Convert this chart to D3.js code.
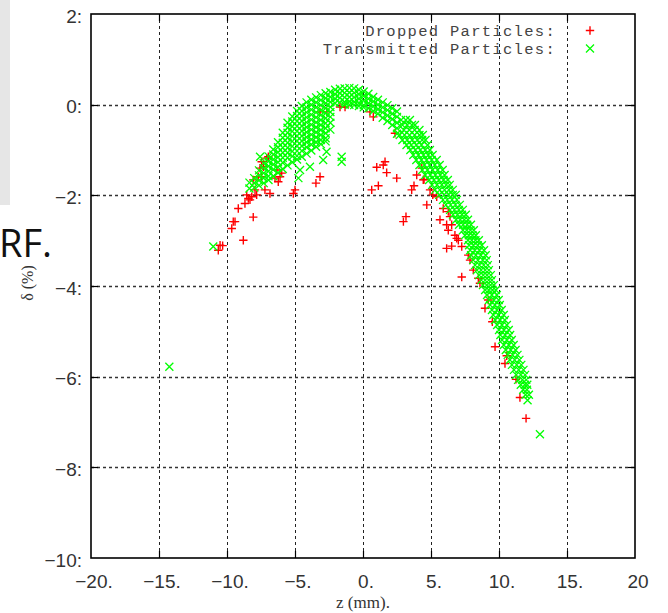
<!DOCTYPE html>
<html><head><meta charset="utf-8">
<script src="https://cdn.jsdelivr.net/npm/d3@7"></script>
<style>html,body{margin:0;padding:0;background:#fff;overflow:hidden}svg{display:block}</style>
</head><body>
<svg id="chart" width="668" height="613"></svg>
<script>
// ---------- data ----------
const xTicks = [-20, -15, -10, -5, 0, 5, 10, 15, 20];
const xTickLabels = ["\u221220.", "\u221215.", "\u221210.", "\u22125.", "0.", "5.", "10.", "15.", "20"];
const yTicks = [2, 0, -2, -4, -6, -8, -10];
const yTickLabels = ["2:", "0:", "\u22122:", "\u22124:", "\u22126:", "\u22128:", "\u221210:"];
const seriesNames = ["Dropped Particles:", "Transmitted Particles:"];
const xTitle = "z (mm).";
const yTitle = "\u03b4 (%)";
const sideText = "RF.";

// Dropped particles [z, delta]
const dropped = [
[-10.51,-3.10],[-10.64,-3.21],[-10.32,-3.11],[-8.80,-2.99],[-9.65,-2.73],[-9.54,-2.58],[-9.41,-2.58],[-9.17,-2.29],
[-8.07,-2.48],[-8.68,-2.18],[-8.55,-1.99],[-8.43,-2.07],[-8.31,-2.10],[-8.18,-2.03],[-7.82,-1.99],[-7.94,-1.88],
[-6.84,-1.96],[-8.07,-1.66],[-7.70,-1.59],[-7.57,-1.40],[-7.45,-1.26],[-7.08,-1.18],[-6.96,-1.15],[-6.47,-1.62],
[-6.23,-1.70],[-6.10,-1.59],[-5.98,-1.51],[-6.34,-1.44],[-5.12,-1.96],[-5.00,-1.88],[-3.46,-1.73],[-3.16,-1.59],
[-7.21,-1.88],[-7.45,-1.59],[-7.32,-1.37],
[-3.16,-0.16],[-1.69,-0.05],[-1.32,-0.05],[0.51,-0.16],[0.76,-0.27],[2.35,-0.63],[-2.67,-0.16],
[1.01,-1.38],[1.49,-1.33],[1.62,-1.26],[1.74,-1.50],[2.48,-1.62],[1.13,-1.79],[0.64,-1.88],[4.32,-1.40],
[3.95,-1.55],[4.49,-1.65],[3.75,-1.79],[3.58,-1.88],[4.93,-1.88],[5.42,-2.03],[4.69,-2.21],[2.97,-2.58],
[3.16,-2.47],[4.43,-1.66],
[5.13,-1.99],[5.90,-2.29],[6.27,-2.36],[6.40,-2.47],[5.66,-2.54],[6.15,-2.65],[6.52,-2.65],[6.27,-2.77],
[6.76,-2.88],[6.89,-2.95],[7.01,-2.99],[7.26,-3.13],[6.52,-3.12],[6.15,-3.17],[7.74,-3.32],[7.87,-3.43],
[7.26,-3.80],[8.11,-3.65],[8.48,-3.83],[8.60,-3.94],[9.21,-4.31],[8.97,-4.49],[9.51,-4.79],[9.71,-5.34],
[10.57,-5.54],[10.44,-5.71],[11.25,-6.06],[11.54,-6.46],[11.99,-6.92]
];

// Transmitted particles, left lobe, read column by column: [z, [delta...]]
const transmittedLobe = [
[-8.35,[-1.72,-1.85]],
[-8.0,[-1.62,-1.73,-1.83]],
[-7.65,[-1.45,-1.56,-1.67,-1.78]],
[-7.3,[-1.29,-1.4,-1.51,-1.62,-1.73]],
[-6.95,[-1.14,-1.25,-1.36,-1.47,-1.58,-1.66]],
[-6.6,[-0.99,-1.1,-1.21,-1.32,-1.43,-1.58]],
[-6.25,[-0.83,-0.94,-1.05,-1.16,-1.27,-1.38,-1.5]],
[-5.9,[-0.62,-0.73,-0.84,-0.95,-1.06,-1.17,-1.28,-1.42]],
[-5.55,[-0.4,-0.51,-0.62,-0.73,-0.84,-0.95,-1.06,-1.17,-1.34]],
[-5.2,[-0.26,-0.37,-0.48,-0.59,-0.7,-0.81,-0.92,-1.03,-1.14,-1.27]],
[-4.85,[-0.14,-0.25,-0.36,-0.47,-0.58,-0.69,-0.8,-0.91,-1.02,-1.13,-1.21]],
[-4.5,[-0.03,-0.14,-0.25,-0.36,-0.47,-0.58,-0.69,-0.8,-0.91,-1.02,-1.15]],
[-4.15,[0.05,-0.06,-0.17,-0.28,-0.39,-0.5,-0.61,-0.72,-0.83,-0.94,-1.08]],
[-3.8,[0.11,0.0,-0.11,-0.22,-0.33,-0.44,-0.55,-0.66,-0.77,-0.88,-1.01]],
[-3.45,[0.16,0.05,-0.06,-0.17,-0.28,-0.39,-0.5,-0.61,-0.72,-0.83,-0.93]],
[-3.1,[0.21,0.1,-0.01,-0.12,-0.23,-0.34,-0.45,-0.56,-0.67,-0.78,-0.87]],
[-2.75,[0.25,0.14,0.03,-0.08,-0.19,-0.3,-0.41,-0.52,-0.63,-0.74,-0.81]],
[-2.4,[0.28,0.17,0.06,-0.05,-0.16,-0.27,-0.4,-0.55]]
];

// Transmitted particles, top of the arch: [z, [delta...]]
const transmittedArch = [
[-2.05,[0.33,0.23,0.13,0.03]],
[-1.7,[0.35,0.25,0.15,0.05]],
[-1.35,[0.36,0.26,0.16,0.06,0.0]],
[-1.0,[0.37,0.27,0.17,0.07,0.0]],
[-0.65,[0.36,0.26,0.16,0.06,-0.01]],
[-0.3,[0.33,0.23,0.13,0.03,-0.03]],
[0.05,[0.29,0.19,0.09,-0.01,-0.06]],
[0.4,[0.24,0.13,0.03,-0.08]],
[0.75,[0.17,0.07,-0.04,-0.14]],
[1.1,[0.11,0.0,-0.1,-0.2]],
[1.45,[0.05,-0.06,-0.17,-0.29]],
[1.8,[-0.01,-0.12,-0.24,-0.36]],
[2.15,[-0.08,-0.2,-0.32,-0.45]],
[2.5,[-0.15,-0.27,-0.4,-0.52,-0.64]]
];

// Transmitted particles, descending tail, read row by row: [delta, [z...]]
const transmittedTail = [
[-0.34,[2.8,3.15,3.45]],
[-0.45,[2.9,3.25,3.6,3.82]],
[-0.56,[3.0,3.4,3.8,4.15]],
[-0.67,[2.7,3.05,3.42,3.8,4.15,4.4]],
[-0.78,[2.9,3.25,3.62,4.0,4.35,4.6]],
[-0.89,[3.2,3.55,3.92,4.3,4.75]],
[-1.00,[3.48,3.85,4.22,4.58,4.92]],
[-1.11,[3.7,4.08,4.45,4.8,5.12]],
[-1.22,[3.92,4.3,4.68,5.05,5.42]],
[-1.33,[4.15,4.52,4.9,5.28,5.64]],
[-1.44,[4.36,4.74,5.12,5.5,5.86]],
[-1.55,[4.58,4.95,5.32,5.68,6.0]],
[-1.66,[4.86,5.22,5.58,5.92,6.24]],
[-1.77,[5.08,5.45,5.8,6.12,6.38]],
[-1.88,[5.3,5.65,6.0,6.32,6.6]],
[-1.99,[5.6,5.95,6.3,6.6,6.82]],
[-2.10,[5.88,6.2,6.55,6.9]],
[-2.21,[6.1,6.45,6.8,7.12]],
[-2.32,[6.4,6.72,7.05,7.34]],
[-2.43,[6.62,6.95,7.28,7.56]],
[-2.54,[6.85,7.15,7.45,7.72]],
[-2.65,[7.06,7.36,7.66,7.94]],
[-2.77,[7.35,7.63,7.9,8.15]],
[-2.88,[7.5,7.78,8.05,8.3]],
[-2.99,[7.72,8.0,8.27,8.52]],
[-3.10,[7.8,8.12,8.44,8.74]],
[-3.21,[7.88,8.22,8.56,8.9]],
[-3.32,[7.95,8.3,8.66,9.02]],
[-3.43,[8.1,8.45,8.8,9.1]],
[-3.54,[8.24,8.56,8.88,9.18]],
[-3.65,[8.38,8.68,8.98,9.26]],
[-3.76,[8.54,8.84,9.12,9.4]],
[-3.87,[8.7,8.98,9.25,9.48]],
[-3.98,[8.82,9.1,9.38,9.62]],
[-4.09,[8.98,9.25,9.52,9.77]],
[-4.20,[9.12,9.48,9.84]],
[-4.31,[9.26,9.62,9.98]],
[-4.42,[9.35,9.7,10.06]],
[-4.53,[9.48,9.85,10.2]],
[-4.64,[9.58,9.95,10.35]],
[-4.75,[9.72,10.08,10.43]],
[-4.86,[9.86,10.22,10.58]],
[-4.97,[10.0,10.36,10.72]],
[-5.08,[10.1,10.45,10.82]],
[-5.19,[10.22,10.58,10.94]],
[-5.30,[10.35,10.72,11.08]],
[-5.41,[10.5,10.86,11.22]],
[-5.52,[10.64,11.0,11.36]],
[-5.63,[10.8,11.15,11.5]],
[-5.74,[10.95,11.3,11.64]],
[-5.85,[11.1,11.45,11.8]],
[-5.96,[11.26,11.6,11.92]],
[-6.07,[11.4,11.72,12.0]],
[-6.18,[11.6,11.9,12.08]],
[-6.29,[11.78,12.05]],
[-6.40,[11.95,12.2]],
[-6.52,[12.1]]
];

// Isolated transmitted particles [z, delta]
const transmittedOutliers = [
[-11.01,-3.13],[-14.24,-5.78],[13.01,-7.27],[-7.57,-1.15],[-4.63,-1.44],[-4.75,-1.62],
[-3.90,-1.37],[-2.93,-1.22],[-2.68,-1.04],[-1.57,-1.15],[-1.57,-1.26]
];

// ---------- drawing ----------
const svg = d3.select("#chart");
const plot = {left: 91, right: 635, top: 14, bottom: 558};
const x = d3.scaleLinear().domain([-20, 20]).range([plot.left, plot.right]);
const y = d3.scaleLinear().domain([-10, 2]).range([plot.bottom, plot.top]);

const transmitted = [
  ...transmittedLobe.flatMap(([z, ds]) => ds.map(d => [z, d])),
  ...transmittedArch.flatMap(([z, ds]) => ds.map(d => [z, d])),
  ...transmittedTail.flatMap(([d, zs]) => zs.map(z => [z, d])),
  ...transmittedOutliers
];

// side decoration (slide remnants)
svg.append("rect").attr("x", 0).attr("y", 0).attr("width", 10).attr("height", 205).attr("fill", "#e6e6e6");
svg.append("text").attr("x", -1).attr("y", 257).text(sideText)
  .attr("font-family", "'Open Sans', 'Noto Sans', sans-serif").attr("font-size", 38).attr("fill", "#111");

// grid
const grid = svg.append("g").attr("stroke", "#222").attr("stroke-width", 1).attr("stroke-dasharray", "3,3").attr("fill", "none");
grid.selectAll("line.v").data(xTicks.slice(1, -1)).join("line")
  .attr("x1", d => Math.round(x(d)) + 0.5).attr("x2", d => Math.round(x(d)) + 0.5)
  .attr("y1", plot.top).attr("y2", plot.bottom);
grid.selectAll("line.h").data(yTicks.slice(1, -1)).join("line")
  .attr("y1", d => Math.round(y(d)) + 0.5).attr("y2", d => Math.round(y(d)) + 0.5)
  .attr("x1", plot.left).attr("x2", plot.right).attr("stroke", "#333").attr("stroke-width", 1.4);

// markers
const plusPath = (px, py, r) => `M${px - r},${py}H${px + r}M${px},${py - r}V${py + r}`;
const crossPath = (px, py, r) => `M${px - r},${py - r}L${px + r},${py + r}M${px - r},${py + r}L${px + r},${py - r}`;

svg.append("g").selectAll("path").data(dropped).join("path")
  .attr("d", d => plusPath(x(d[0]), y(d[1]), 4.2))
  .attr("stroke", "#ff0000").attr("stroke-width", 1.4).attr("fill", "none");

svg.append("g").selectAll("path").data(transmitted).join("path")
  .attr("d", d => crossPath(x(d[0]), y(d[1]), 4))
  .attr("stroke", "#00ff00").attr("stroke-width", 1.3).attr("fill", "none");

// border
svg.append("rect").attr("x", plot.left).attr("y", plot.top)
  .attr("width", plot.right - plot.left).attr("height", plot.bottom - plot.top)
  .attr("fill", "none").attr("stroke", "#000").attr("stroke-width", 1.6);

// ticks (inward, all sides)
const tk = svg.append("g").attr("stroke", "#000").attr("stroke-width", 1.2);
xTicks.slice(1, -1).forEach(t => {
  const px = Math.round(x(t)) + 0.5;
  tk.append("line").attr("x1", px).attr("x2", px).attr("y1", plot.top).attr("y2", plot.top + 7);
  tk.append("line").attr("x1", px).attr("x2", px).attr("y1", plot.bottom).attr("y2", plot.bottom - 7);
});
yTicks.slice(1, -1).forEach(t => {
  const py = Math.round(y(t)) + 0.5;
  tk.append("line").attr("y1", py).attr("y2", py).attr("x1", plot.left).attr("x2", plot.left + 7);
  tk.append("line").attr("y1", py).attr("y2", py).attr("x1", plot.right).attr("x2", plot.right - 7);
});

// tick labels
const labelFont = "'Liberation Sans', Arial, sans-serif";
svg.append("g").selectAll("text").data(xTicks).join("text")
  .attr("x", d => x(d) + 3).attr("y", 588).attr("text-anchor", "middle")
  .attr("font-family", labelFont).attr("font-size", 19).attr("fill", "#333")
  .text((d, i) => xTickLabels[i]);
svg.append("g").selectAll("text").data(yTicks).join("text")
  .attr("x", 82).attr("y", d => y(d) + 8.5).attr("text-anchor", "end")
  .attr("font-family", labelFont).attr("font-size", 19).attr("fill", "#333")
  .text((d, i) => yTickLabels[i]);

// axis titles
svg.append("text").attr("x", 363).attr("y", 608).attr("text-anchor", "middle")
  .attr("font-family", "'Liberation Serif', 'DejaVu Serif', serif").attr("font-size", 17).attr("fill", "#333")
  .text(xTitle);
svg.append("text").attr("transform", "translate(33,283) rotate(-90)").attr("text-anchor", "middle")
  .attr("font-family", "'Liberation Serif', 'DejaVu Serif', serif").attr("font-size", 16).attr("fill", "#333")
  .text(yTitle);

// legend
const legendRows = [{name: seriesNames[0], y: 30.5, kind: "plus"}, {name: seriesNames[1], y: 48.5, kind: "cross"}];
const lg = svg.append("g");
legendRows.forEach(r => {
  lg.append("text").attr("x", 556).attr("y", r.y).attr("dy", "0.35em").attr("text-anchor", "end")
    .attr("font-family", "'Liberation Mono', 'DejaVu Sans Mono', monospace").attr("font-size", 15.5)
    .attr("letter-spacing", 1.3).attr("fill", "#444")
    .text(r.name);
  lg.append("path").attr("d", r.kind === "plus" ? plusPath(590, r.y, 4.2) : crossPath(590, r.y, 4))
    .attr("stroke", r.kind === "plus" ? "#ff0000" : "#00ff00").attr("stroke-width", r.kind === "plus" ? 1.4 : 1.3).attr("fill", "none");
});
</script>
</body></html>
